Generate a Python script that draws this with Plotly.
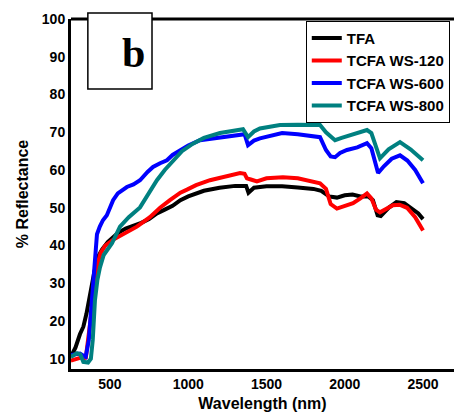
import plotly.graph_objects as go

names = ["TFA", "TCFA WS-120", "TCFA WS-600", "TCFA WS-800"]
colors = ["#000000", "#FF0000", "#0000FF", "#008080"]

tfa_x = [250, 280, 308, 330, 350, 372, 400, 423, 450, 487, 550, 600, 650, 700, 750, 800, 850, 900, 950, 1000,
         1100, 1200, 1300, 1370, 1385, 1420, 1500, 1600, 1700, 1800, 1850, 1900, 1950, 2000, 2050, 2100, 2150,
         2180, 2210, 2230, 2280, 2330, 2380, 2420, 2470, 2500]
tfa_y = [10.5, 13, 16.5, 18.5, 22, 27, 33, 37, 39, 41, 43.3, 44.5, 45.2, 46, 47, 48.5, 49.5, 50.5, 52, 53,
         54.5, 55.3, 55.8, 55.8, 54, 55.3, 55.7, 55.7, 55.4, 55, 54.5, 53, 52.7, 53.3, 53.5, 53, 53,
         52, 48, 47.8, 50, 51.5, 51.2, 50, 48.5, 47]

ws120_x = [250, 300, 330, 345, 360, 380, 404, 420, 440, 470, 519, 600, 672, 755, 820, 883, 950, 992, 1050, 1139,
           1250, 1331, 1360, 1375, 1400, 1439, 1500, 1605, 1700, 1800, 1842, 1880, 1910, 1950, 2000, 2053, 2100,
           2142, 2170, 2200, 2225, 2270, 2308, 2350, 2398, 2450, 2500]
ws120_y = [9.5, 10, 10.5, 10, 15, 23, 30, 35, 38, 40, 41.5, 43.5, 45, 47.5, 50, 52, 54, 54.8, 56, 57.3,
           58.5, 59.2, 59, 57.8, 57.5, 57, 57.8, 58.1, 57.8, 57, 56.5, 55, 51, 49.8, 50.5, 51.2, 52.5,
           53.8, 52.5, 49.5, 48.8, 49.8, 50.7, 50.8, 50, 47.5, 44]

ws600_x = [250, 308, 330, 345, 365, 385, 400, 417, 435, 455, 480, 500, 520, 550, 608, 650, 692, 740, 775, 820,
           864, 900, 947, 1000, 1075, 1203, 1300, 1360, 1382, 1420, 1458, 1600, 1700, 1842, 1880, 1910, 1938,
           1970, 2014, 2080, 2142, 2170, 2213, 2250, 2300, 2353, 2400, 2450, 2500]
ws600_y = [11, 11.4, 10.8, 10.5, 15, 25.5, 35, 43, 45, 46.7, 48, 50.1, 52, 53.8, 55.5, 56.2, 57.3, 59.5, 60.8, 61.8,
           62.6, 64, 65.3, 66.5, 67.9, 68.7, 69.3, 69.5, 66.6, 67.8, 68.4, 69.8, 69.5, 68.7, 65.3, 63.6, 63.4,
           64.5, 65.3, 66, 67.1, 65.8, 59.2, 61, 63, 63.9, 62.5, 60, 56.5]

ws800_x = [250, 290, 310, 330, 360, 378, 390, 404, 420, 436, 460, 481, 513, 564, 620, 692, 740, 800, 850, 903,
           960, 1030, 1100, 1203, 1300, 1350, 1382, 1420, 1458, 1586, 1700, 1842, 1880, 1938, 1980, 2034, 2100,
           2142, 2170, 2225, 2280, 2353, 2420, 2470, 2500]
ws800_y = [10.5, 11.5, 11.2, 9.2, 9, 10, 15, 25.5, 31, 34.2, 37.5, 38.7, 40.6, 45, 47.5, 50.1, 53.5, 57.3, 60, 62.6,
           65, 67, 68.5, 69.8, 70.6, 70.8, 68.7, 70.2, 71, 71.9, 72, 71.9, 70, 67.9, 68.5, 69.2, 70,
           70.6, 69.8, 63.1, 65.5, 67.4, 65.5, 63.5, 62.6]

series = [(tfa_x, tfa_y), (ws120_x, ws120_y), (ws600_x, ws600_y), (ws800_x, ws800_y)]

x_ticks = [500, 1000, 1500, 2000, 2500]
y_ticks = [10, 20, 30, 40, 50, 60, 70, 80, 90, 100]

font_family = "Liberation Sans, Arial, sans-serif"

fig = go.Figure()
for (xs, ys), name, color in zip(series, names, colors):
    fig.add_trace(go.Scatter(x=xs, y=ys, mode="lines", name=name,
                             line=dict(color=color, width=4)))

fig.update_layout(
    width=454, height=416,
    margin=dict(l=71, r=0, t=19, b=47),
    plot_bgcolor="white", paper_bgcolor="white",
    font=dict(family=font_family, size=14, color="black", weight="bold"),
    showlegend=True,
    legend=dict(x=0.613, y=0.995, xanchor="left", yanchor="top",
                bordercolor="black", borderwidth=1, bgcolor="white",
                font=dict(size=15, family=font_family, weight="bold"),
                itemwidth=30, tracegroupgap=0),
    xaxis=dict(range=[251, 2698], tickvals=x_ticks, showgrid=False, zeroline=False,
               showline=True, linecolor="black", linewidth=3, ticks="",
               tickfont=dict(size=14, weight="bold"),
               title=dict(text="Wavelength (nm)", font=dict(size=16, weight="bold"), standoff=8)),
    yaxis=dict(range=[7.3, 100], tickvals=y_ticks, showgrid=False, zeroline=False,
               showline=True, linecolor="black", linewidth=3, ticks="",
               tickfont=dict(size=14, weight="bold"),
               title=dict(text="% Reflectance", font=dict(size=16, weight="bold"), standoff=10)),
)

fig.add_shape(type="line", xref="paper", yref="paper", x0=0, x1=1, y0=1, y1=1,
              line=dict(color="black", width=3), layer="above")
fig.add_shape(type="rect", xref="paper", yref="paper", x0=0.044, x1=0.2115, y0=0.8, y1=1.017,
              line=dict(color="black", width=1.5), fillcolor="white", layer="above")
fig.add_annotation(text="b", xref="paper", yref="paper", x=0.128, y=0.975, showarrow=False,
                   font=dict(family="Liberation Serif, Times New Roman, serif", size=42, weight="bold",
                             color="black"))

fig.write_html("out.html")
